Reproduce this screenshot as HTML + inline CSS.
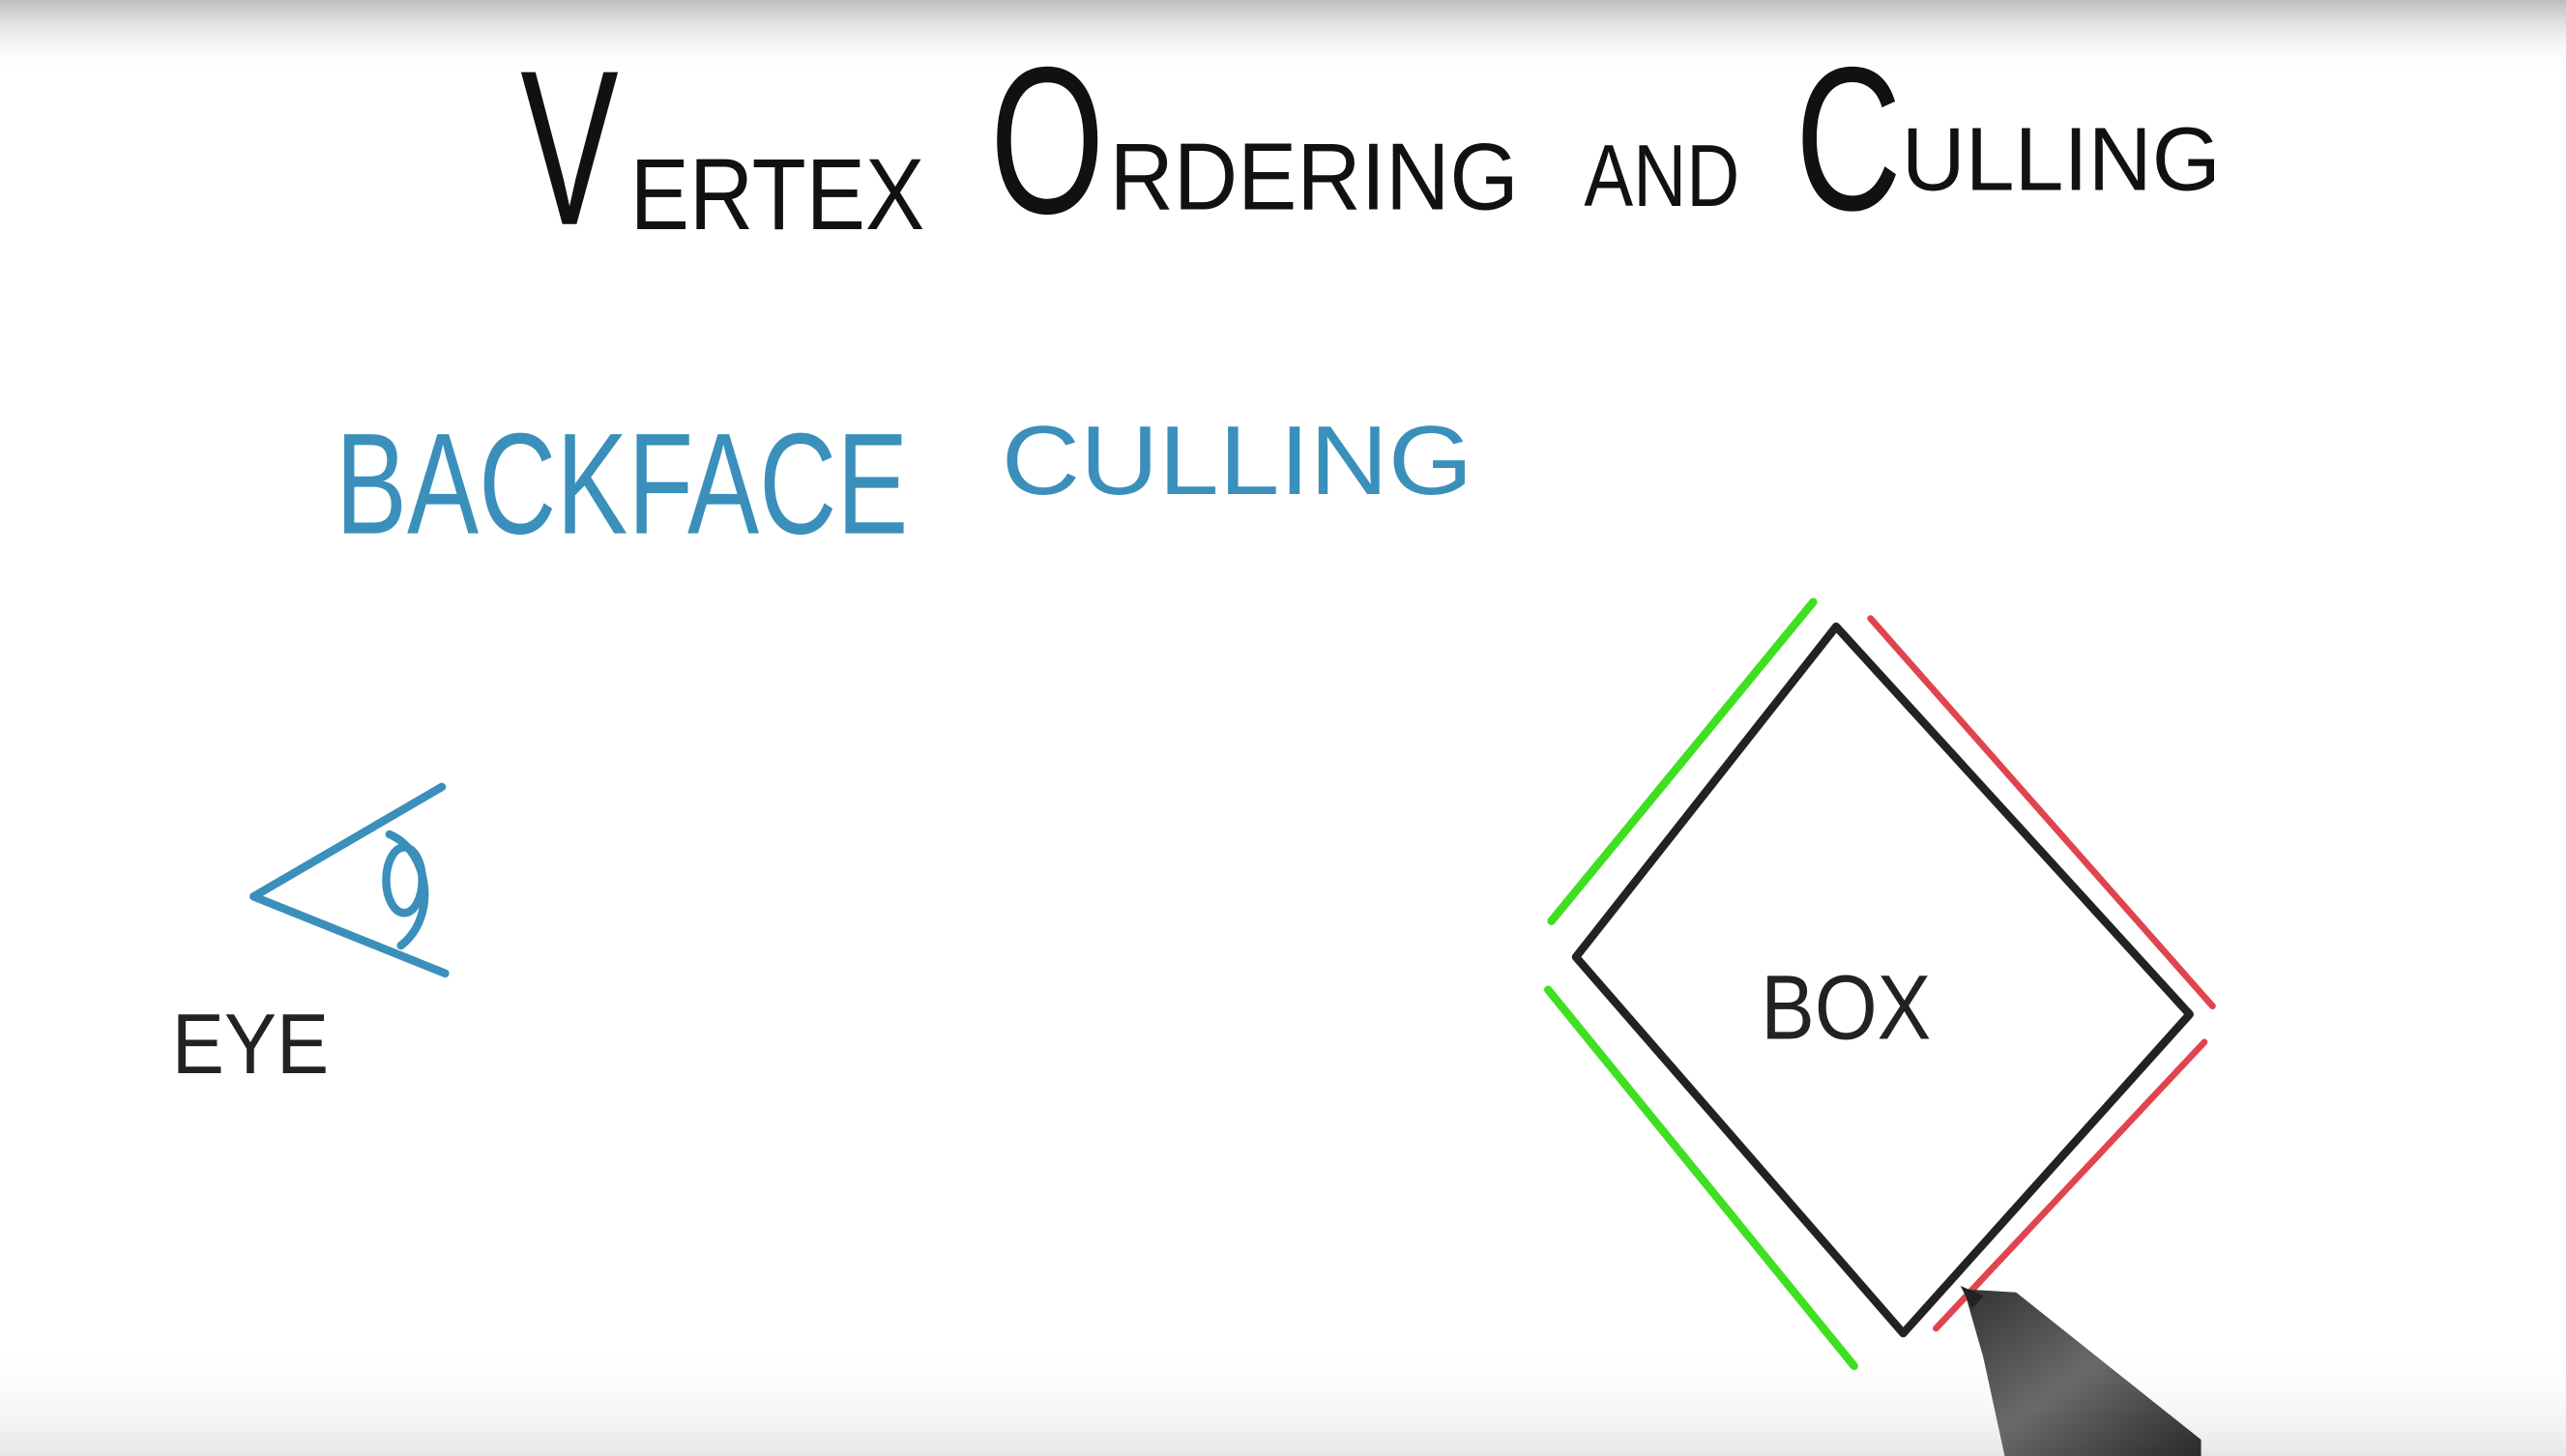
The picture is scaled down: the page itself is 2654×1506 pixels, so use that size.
<!DOCTYPE html>
<html><head><meta charset="utf-8"><style>
html,body{margin:0;padding:0;width:2654px;height:1506px;overflow:hidden;background:#fff}
svg{display:block}
</style></head><body>
<svg width="2654" height="1506" viewBox="0 0 1568 890" preserveAspectRatio="none" xmlns="http://www.w3.org/2000/svg">
<defs>
<linearGradient id="top" x1="0" y1="0" x2="0" y2="1">
<stop offset="0" stop-color="#bdbdbd"/><stop offset="1" stop-color="#ffffff" stop-opacity="0"/>
</linearGradient>
<linearGradient id="bot" x1="0" y1="0" x2="0" y2="1">
<stop offset="0" stop-color="#ffffff" stop-opacity="0"/><stop offset="1" stop-color="#e6e6e6"/>
</linearGradient>
<linearGradient id="pen" x1="0" y1="0" x2="1" y2="1">
<stop offset="0" stop-color="#333"/><stop offset="0.5" stop-color="#6a6a6a"/><stop offset="1" stop-color="#2a2a2a"/>
</linearGradient>
</defs>
<rect width="1568" height="890" fill="#fff"/>
<rect width="1568" height="45" fill="url(#top)"/>
<rect y="820" width="1568" height="70" fill="url(#bot)"/>

<g font-family="Liberation Sans, sans-serif" fill="#111">
<text x="318" y="137" font-size="135" textLength="60" lengthAdjust="spacingAndGlyphs">V</text>
<text x="385" y="140" font-size="62" textLength="180" lengthAdjust="spacingAndGlyphs">ERTEX</text>
<text x="605" y="130" font-size="128" textLength="70" lengthAdjust="spacingAndGlyphs">O</text>
<text x="678" y="128" font-size="58" textLength="250" lengthAdjust="spacingAndGlyphs">RDERING</text>
<text x="968" y="126" font-size="54" textLength="95" lengthAdjust="spacingAndGlyphs">AND</text>
<text x="1097" y="128" font-size="125" textLength="65" lengthAdjust="spacingAndGlyphs">C</text>
<text x="1162" y="116" font-size="55" textLength="195" lengthAdjust="spacingAndGlyphs">ULLING</text>
</g>

<g font-family="Liberation Sans, sans-serif" fill="#3a90ba">
<text x="205" y="326" font-size="88" textLength="350" lengthAdjust="spacingAndGlyphs">BACKFACE</text>
<text x="612" y="302" font-size="60" textLength="288" lengthAdjust="spacingAndGlyphs">CULLING</text>
</g>

<g stroke="#3a90ba" stroke-width="5" fill="none" stroke-linecap="round" stroke-linejoin="round">
<path d="M270 481 L155 548 L272 595"/>
<path d="M238 510 C262 520 268 560 245 578"/>
<ellipse cx="247" cy="538" rx="11" ry="20"/>
</g>

<text x="105" y="656" font-family="Liberation Sans, sans-serif" font-size="52" fill="#222" textLength="96" lengthAdjust="spacingAndGlyphs">EYE</text>

<g fill="none" stroke-linecap="round" stroke-linejoin="round">
<path d="M1122 383 L963 585 L1163 815 L1338 620 Z" stroke="#222" stroke-width="5"/>
<path d="M1108 368 L948 563" stroke="#3fe021" stroke-width="5"/>
<path d="M946 605 L1133 835" stroke="#3fe021" stroke-width="5"/>
<path d="M1143 378 L1352 615" stroke="#e0454f" stroke-width="4"/>
<path d="M1347 637 L1183 812" stroke="#e0454f" stroke-width="4"/>
</g>

<text x="1076" y="635" font-family="Liberation Sans, sans-serif" font-size="56" fill="#222" textLength="104" lengthAdjust="spacingAndGlyphs">BOX</text>

<path d="M1200 788 L1232 790 L1345 880 L1345 890 L1225 890 L1212 830 Z" fill="url(#pen)"/>
<path d="M1198 786 L1212 792 L1205 800 Z" fill="#222"/>
</svg>
</body></html>
